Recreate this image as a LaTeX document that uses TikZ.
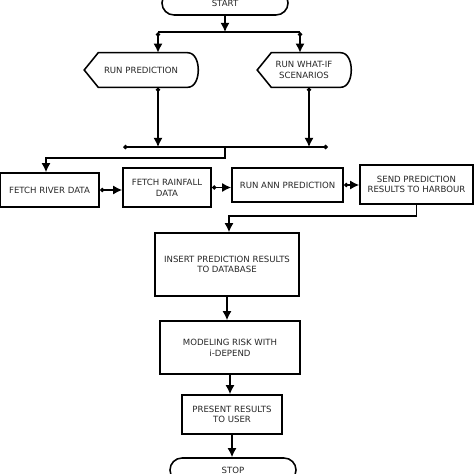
\documentclass[tikz,border=0pt]{standalone}
\usepackage{fontspec}
\setmainfont{DejaVu Sans}
\usetikzlibrary{arrows.meta}

% outline for the two "display" boxes
\newcommand\dispoutline[1]{%
  \draw (#1.west) -- ([xshift=3.5mm]#1.north west) -- ([xshift=-2.5mm]#1.north east)
    .. controls ([xshift=1mm]#1.north east) and ([xshift=1mm]#1.south east) .. ([xshift=-2.5mm]#1.south east)
    -- ([xshift=3.5mm]#1.south west) -- cycle;}

\begin{document}
\begin{tikzpicture}[x=0.025cm, y=-0.025cm, line width=1.1pt,
  every node/.style = {align=center, inner sep=0pt, text=black!85,
    font=\fontsize{6.1}{7.6}\selectfont},
  terminal/.style = {draw, rounded corners=3mm, minimum width=3.15cm, minimum height=0.6cm},
  process/.style = {draw, minimum height=0.85cm},
  display/.style = {minimum height=0.825cm},
  arr/.style = {-{Latex[length=6.5pt,width=6.5pt]}},
  darr/.style = {{Diamond[length=3.5pt,width=3.5pt]}-{Latex[length=6.5pt,width=6.5pt]}}]
  \useasboundingbox (0,0) rectangle (474,474);

  \node[terminal] (start) at (225,3) {START};
  \node[display, minimum width=2.8cm] (runpred) at (141,70) {RUN PREDICTION};
  \node[display, minimum width=2.3cm] (whatif) at (304,70) {RUN WHAT-IF\\SCENARIOS};
  \dispoutline{runpred}
  \dispoutline{whatif}

  \node[process, minimum width=2.475cm] (river) at (49.5,190) {FETCH RIVER DATA};
  \node[process, minimum width=2.2cm, minimum height=0.975cm] (rain) at (167,187.5) {FETCH RAINFALL\\DATA};
  \node[process, minimum width=2.775cm] (ann) at (287.5,185) {RUN ANN PREDICTION};
  \node[process, minimum width=2.825cm, minimum height=0.975cm] (send) at (416.5,184.5) {SEND PREDICTION\\RESULTS TO HARBOUR};
  \node[process, minimum width=3.6cm, minimum height=1.575cm] (insert) at (227,264.5) {INSERT PREDICTION RESULTS\\TO DATABASE};
  \node[process, minimum width=3.5cm, minimum height=1.325cm] (model) at (230,347.5) {MODELING RISK WITH\\i-DEPEND};
  \node[process, minimum width=2.5cm, minimum height=0.975cm] (present) at (232,414.5) {PRESENT RESULTS\\TO USER};
  \node[terminal] (stop) at (233,470) {STOP};

  % split after start
  \coordinate (s0) at (225,32);
  \coordinate (s1) at (158,32);
  \coordinate (s2) at (300,32);
  \draw[arr] (start.south) -- (s0);
  \draw (s1) -- (s2);
  \draw[darr] (s1) -- (s1 |- runpred.north);
  \draw[darr] (s2) -- (s2 |- whatif.north);

  % merge
  \coordinate (m0) at (225,147);
  \coordinate (m1) at (158,147);
  \coordinate (m2) at (309,147);
  \draw[{Diamond[length=3.5pt,width=3.5pt]}-{Diamond[length=3.5pt,width=3.5pt]}] (123,147) -- (328,147);
  \draw[darr] (m1 |- runpred.south) -- (m1);
  \draw[darr] (m2 |- whatif.south) -- (m2);

  \coordinate (c1) at (46,158);
  \draw[arr] (m0) |- (c1) -- (c1 |- river.north);
  \draw[darr] (river.east) -- (river.east -| rain.west);
  \draw[darr] (rain.east) -- (rain.east -| ann.west);
  \draw[darr] (ann.east) -- (ann.east -| send.west);

  \coordinate (c2) at (229,216);
  \draw[arr] (send.south) |- (c2) -- (c2 |- insert.north);
  \draw[arr] (insert.south) -- (insert.south |- model.north);
  \draw[arr] (model.south) -- (model.south |- present.north);
  \draw[arr] (present.south) -- (present.south |- stop.north);
\end{tikzpicture}
\end{document}
